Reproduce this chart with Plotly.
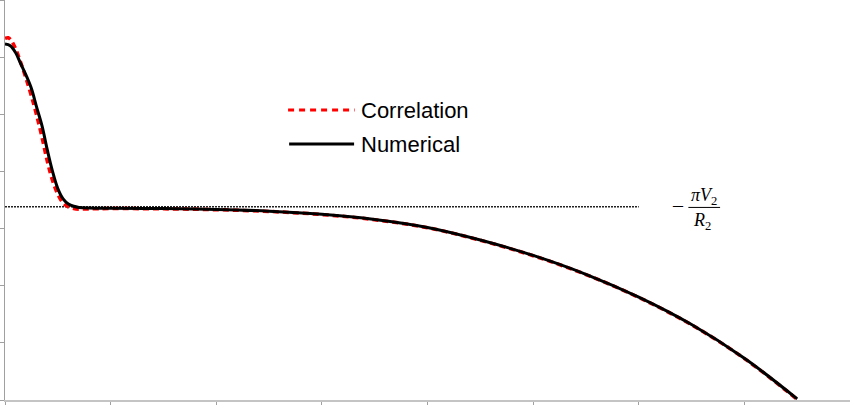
import plotly.graph_objects as go

# numerical solution
num_x = [0.00, 0.05, 0.10, 0.15, 0.20, 0.25, 0.30, 0.35, 0.40, 0.45, 0.50, 0.55, 0.60, 0.65, 0.70, 0.80,
         1.0, 1.5, 2.0, 2.5, 3.0, 3.5, 4.0, 4.5, 5.0, 5.5, 6.0, 6.5, 7.0, 7.5]
num_y = [6.23, 6.20, 6.08, 5.88, 5.68, 5.45, 5.12, 4.80, 4.38, 4.00, 3.70, 3.52, 3.43, 3.39, 3.37, 3.36,
         3.355, 3.35, 3.335, 3.305, 3.25, 3.16, 3.02, 2.80, 2.53, 2.20, 1.80, 1.32, 0.73, 0.02]

# correlation
cor_x = [0.00, 0.03, 0.06, 0.10, 0.15, 0.20, 0.25, 0.30, 0.35, 0.40, 0.45, 0.50, 0.55, 0.60, 0.65, 0.70, 0.80,
         1.0, 1.5, 2.0, 2.5, 3.0, 3.5, 4.0, 4.5, 5.0, 5.5, 6.0, 6.5, 7.0, 7.5]
cor_y = [6.33, 6.34, 6.29, 6.15, 5.90, 5.62, 5.32, 4.98, 4.60, 4.18, 3.84, 3.60, 3.45, 3.38, 3.35, 3.34, 3.345,
         3.35, 3.345, 3.33, 3.30, 3.245, 3.155, 3.015, 2.795, 2.525, 2.195, 1.795, 1.315, 0.725, 0.01]

# -pi V2 / R2 asymptote
asym_x = [0.0, 6.0]
asym_y = [3.383, 3.383]

fig = go.Figure()
fig.add_trace(go.Scatter(x=asym_x, y=asym_y, mode='lines',
                         line=dict(color='#222222', width=1.5, dash='2px,1px'), showlegend=False))
fig.add_trace(go.Scatter(x=cor_x, y=cor_y, mode='lines', line_shape='spline', name='Correlation',
                         line=dict(color='#ff0000', width=3.5, dash='6px,4px'), showlegend=False))
fig.add_trace(go.Scatter(x=num_x, y=num_y, mode='lines', line_shape='spline', name='Numerical',
                         line=dict(color='black', width=3), showlegend=False))

# hand-drawn legend
fig.add_shape(type='line', x0=2.68, x1=3.31, y0=5.075, y1=5.075,
              line=dict(color='#ff0000', width=3, dash='6px,5px'))
fig.add_shape(type='line', x0=2.69, x1=3.305, y0=4.48, y1=4.48,
              line=dict(color='black', width=3))
fig.add_annotation(x=3.35, y=5.075, text='Correlation', showarrow=False, xanchor='left',
                   font=dict(family='Liberation Sans, Arial', size=22, color='black'))
fig.add_annotation(x=3.35, y=4.48, text='Numerical', showarrow=False, xanchor='left',
                   font=dict(family='Liberation Sans, Arial', size=22, color='black'))

# label -πV2/R2
lab_font = dict(family='Liberation Serif, Times New Roman', size=18, color='black')
fig.add_annotation(x=6.37, y=3.41, text='\u2013', showarrow=False, font=dict(lab_font, size=20))
fig.add_annotation(x=6.62, y=3.56, text='<i>\u03c0V</i><sub>2</sub>', showarrow=False, font=lab_font)
fig.add_shape(type='line', x0=6.47, x1=6.77, y0=3.37, y1=3.37, line=dict(color='black', width=1))
fig.add_annotation(x=6.6, y=3.13, text='<i>R</i><sub>2</sub>', showarrow=False, font=lab_font)

fig.update_layout(
    width=850, height=405,
    margin=dict(l=5, r=0, t=0, b=5),
    plot_bgcolor='white', paper_bgcolor='white',
)
fig.update_xaxes(range=[0, 8], dtick=1, showgrid=False, zeroline=False, showticklabels=False,
                 showline=True, linecolor='#c4c4c4', linewidth=2,
                 ticks='outside', ticklen=5, tickcolor='#a0a0a0', tickwidth=1)
fig.update_yaxes(range=[0, 7], dtick=1, showgrid=False, zeroline=False, showticklabels=False,
                 showline=True, linecolor='#a0a0a0', linewidth=1,
                 ticks='outside', ticklen=5, tickcolor='#a0a0a0', tickwidth=1)

# page body has a default 8px margin, drop it so the figure sits at the corner
fig.write_html("out.html", config={'displayModeBar': False},
               post_script="document.body.style.margin='0';")
